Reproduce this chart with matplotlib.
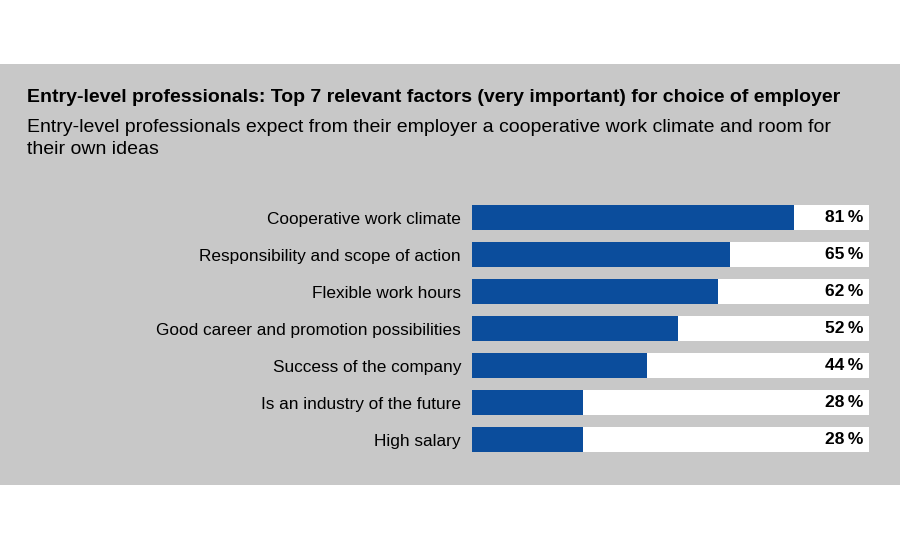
import matplotlib
matplotlib.use("Agg")
import matplotlib.pyplot as plt
from matplotlib.patches import Rectangle

plt.rcParams["font.family"] = ["Liberation Sans", "DejaVu Sans"]

factors = [
    "Cooperative work climate",
    "Responsibility and scope of action",
    "Flexible work hours",
    "Good career and promotion possibilities",
    "Success of the company",
    "Is an industry of the future",
    "High salary",
]
shares = [81, 65, 62, 52, 44, 28, 28]

title = "Entry-level professionals: Top 7 relevant factors (very important) for choice of employer"
subtitle = [
    "Entry-level professionals expect from their employer a cooperative work climate and room for",
    "their own ideas",
]

BLUE = "#0b4d9c"
GRAY = "#c8c8c8"

fig = plt.figure(figsize=(9, 5.5), dpi=100)
fig.patch.set_facecolor("white")

# panel gris de fondo
fig.add_artist(Rectangle((0, 1 - 485 / 550), 1, (485 - 64) / 550,
                         transform=fig.transFigure, facecolor=GRAY,
                         edgecolor="none", zorder=-5))

fig.text(27 / 900, 1 - 97 / 550, title,
         fontsize=14, fontweight="bold", va="center", ha="left")
for i, line in enumerate(subtitle):
    fig.text(27 / 900, 1 - (127 + 22 * i) / 550, line,
             fontsize=14, va="center", ha="left")

ax = fig.add_axes([472 / 900, 1 - 458 / 550, (869 - 472) / 900, 259 / 550])
ax.set_facecolor("none")
y = list(range(len(factors)))
ax.barh(y, [100] * len(factors), height=0.68, color="white", zorder=1)
ax.barh(y, shares, height=0.68, color=BLUE, zorder=2)
for yi, v in zip(y, shares):
    ax.text(98.5, yi, f"{v}\u2009%", ha="right", va="center",
            fontsize=12.5, fontweight="bold", zorder=3)

ax.set_xlim(0, 100)
ax.set_ylim(len(factors) - 0.5, -0.5)
ax.set_yticks(y)
ax.set_yticklabels(factors, fontsize=12.4)
ax.tick_params(axis="y", length=0, pad=8)
ax.set_xticks([])
for s in ax.spines.values():
    s.set_visible(False)

fig.savefig("out.png", dpi=100, facecolor=fig.get_facecolor())
